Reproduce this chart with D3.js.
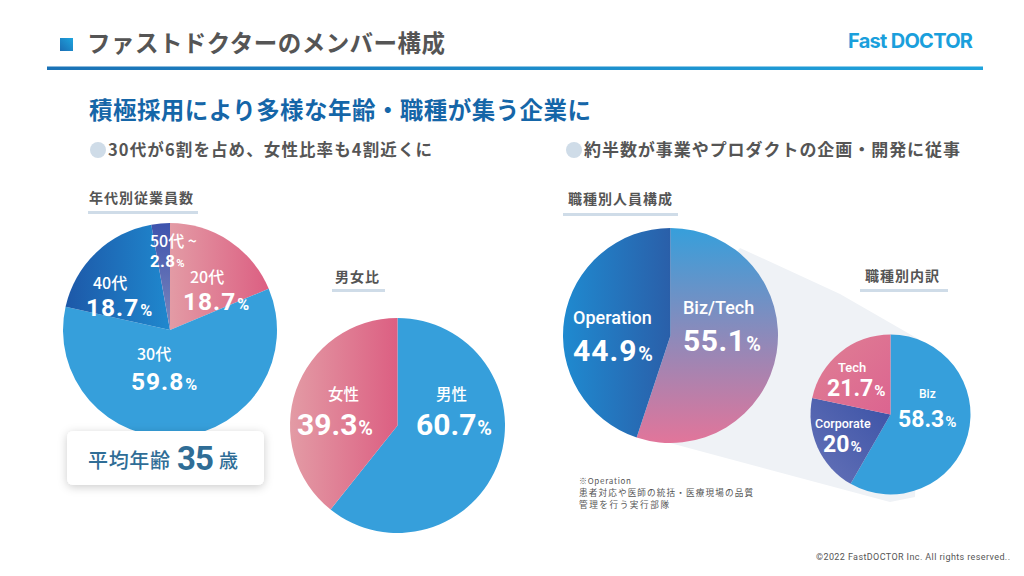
<!DOCTYPE html>
<html lang="ja">
<head>
<meta charset="utf-8">
<script src="https://cdn.jsdelivr.net/npm/d3@7"></script>
<style>
  html, body { margin: 0; padding: 0; background: #fff; }
  svg { display: block; }
  text { font-family: "Noto Sans CJK JP", sans-serif; }
</style>
</head>
<body>
<div id="chart"></div>
<script>
// data
var ageNames = ['20代', '30代', '40代', '50代 ~'];
var ageValues = [18.7, 59.8, 18.7, 2.8];
var genderNames = ['男性', '女性'];
var genderValues = [60.7, 39.3];
var jobNames = ['Biz/Tech', 'Operation'];
var jobValues = [55.1, 44.9];
var detailNames = ['Biz', 'Corporate', 'Tech'];
var detailValues = [58.3, 20, 21.7];

// slice fills: [x1, y1, x2, y2, from, to]
var blue = [0, 0, 1, 0, '#369fdb', '#369fdb'];
var pink = [0, 0, 1, 0, '#e39ba5', '#dc5f82'];
var ageFills = [pink, blue, [0, 0, 1, 0, '#1d58a8', '#1f88ce'], [0, 0, 0, 1, '#3d53ad', '#7f88bd']];
var genderFills = [blue, pink];
var jobFills = [[0, 0, 0, 1, '#369fdb', '#e2759a'], [0, 0, 1, 0, '#1f8ad0', '#2a5fa9']];
var detailFills = [blue, [0, 1, 1, 0, '#6673b8', '#3b52a6'], [0, 0, 1, 1, '#df8094', '#dc6490']];

// label anchors: [name x, name baseline, name size, value x, value baseline, value size, spacing]
var ageLabels = [
  [190, 282.5, 16, 183, 310, 24.5, 1],
  [137, 360, 16, 131, 390, 24.5, 1],
  [93, 289, 16, 86, 316, 24.5, 1],
  [150, 247, 16, 150, 266.5, 17, 0.3]
];
var genderLabels = [
  [436, 400, 15.5, 416, 435, 30, 0],
  [328, 400, 15.5, 297, 435, 30, 0]
];
var jobLabels = [
  [683, 314, 18, 683, 351, 30, 0.5],
  [573, 324, 18, 573, 361, 30, 1]
];
var detailLabels = [
  [919, 398, 12, 898, 427, 23, 0],
  [815, 428, 12.5, 823, 452, 23, 0],
  [838, 372, 13, 827, 396, 23, 0]
];

var textColor = '#555';
var ruleColor = '#cfdce8';
var numberFont = 'Roboto, sans-serif';

var svg = d3.select('#chart').append('svg').attr('width', 1024).attr('height', 576);
var defs = svg.append('defs');

var shadow = defs.append('filter').attr('id', 'card-shadow')
  .attr('x', '-20%').attr('y', '-40%').attr('width', '140%').attr('height', '180%');
shadow.append('feDropShadow').attr('dx', 0).attr('dy', 2).attr('stdDeviation', 5)
  .attr('flood-color', '#000').attr('flood-opacity', 0.2);

function addGradient(id, f) {
  var g = defs.append('linearGradient').attr('id', id)
    .attr('x1', f[0]).attr('y1', f[1]).attr('x2', f[2]).attr('y2', f[3]);
  g.append('stop').attr('offset', 0).attr('stop-color', f[4]);
  g.append('stop').attr('offset', 1).attr('stop-color', f[5]);
}

function drawText(str, x, y, size, color, opts) {
  opts = opts || {};
  var t = svg.append('text')
    .attr('x', x).attr('y', y)
    .attr('font-size', size)
    .attr('font-weight', opts.weight || 700)
    .attr('fill', color)
    .style('font-family', opts.font || null)
    .text(str);
  if (opts.width) {
    t.attr('textLength', opts.width).attr('lengthAdjust', 'spacing');
  }
  return t;
}

// header
addGradient('square-fill', [0, 1, 1, 0, '#1a6db4', '#1ea5de']);
addGradient('rule-fill', [0, 0, 1, 0, '#1a72b6', '#1fa4dd']);
svg.append('rect').attr('x', 60).attr('y', 38).attr('width', 13).attr('height', 13).attr('fill', 'url(#square-fill)');
drawText('ファストドクターのメンバー構成', 87, 52, 23.5, textColor, { width: 358 });
drawText('Fast DOCTOR', 848, 48, 20, '#1a9fdc', { font: 'Inter, sans-serif', width: 125 });
svg.append('rect').attr('x', 47).attr('y', 66.5).attr('width', 936).attr('height', 3.5).attr('fill', 'url(#rule-fill)');

drawText('積極採用により多様な年齢・職種が集う企業に', 89, 119, 23.5, '#1566a8', { width: 502 });

svg.append('circle').attr('cx', 98).attr('cy', 150).attr('r', 8).attr('fill', ruleColor);
drawText('30代が6割を占め、女性比率も4割近くに', 108, 156, 16.5, textColor, { width: 324 });
svg.append('circle').attr('cx', 574).attr('cy', 150).attr('r', 8).attr('fill', ruleColor);
drawText('約半数が事業やプロダクトの企画・開発に従事', 584, 156, 17, textColor, { width: 376 });

// chart headings: text, x, baseline, text width, rule x, rule y, rule width
[
  ['年代別従業員数', 89, 203, 104, 88, 211, 110],
  ['男女比', 335, 282, 44, 332, 289, 53],
  ['職種別人員構成', 568, 204, 104, 563, 213, 115],
  ['職種別内訳', 865, 281, 74, 860, 289, 88]
].forEach(function(h) {
  drawText(h[0], h[1], h[2], 14, textColor, { width: h[3] });
  svg.append('rect').attr('x', h[4]).attr('y', h[5]).attr('width', h[6]).attr('height', 3).attr('fill', ruleColor);
});

// band joining the job pie to its breakdown
svg.append('path')
  .attr('d', 'M670,335L740,248L840,294L920,340L915,497L890,502L670,443Z')
  .attr('fill', '#eff2f6');

var pie = d3.pie().sort(null).value(function(d) { return d; });

function drawPie(id, cx, cy, radius, values, fills) {
  var arc = d3.arc().innerRadius(0).outerRadius(radius);
  var g = svg.append('g').attr('transform', 'translate(' + cx + ',' + cy + ')');
  fills.forEach(function(f, i) { addGradient(id + '-' + i, f); });
  g.selectAll('path')
    .data(pie(values))
    .enter()
    .append('path')
    .attr('d', arc)
    .attr('fill', function(d, i) { return 'url(#' + id + '-' + i + ')'; });
}

function drawLabels(names, values, labels) {
  names.forEach(function(name, i) {
    var l = labels[i];
    var isLatin = /^[A-Z]/.test(name);
    drawText(name, l[0], l[1], l[2], '#fff', {
      weight: 500,
      font: isLatin ? numberFont : null
    });
    var t = drawText(null, l[3], l[4], l[5], '#fff', { font: numberFont });
    t.append('tspan').attr('letter-spacing', l[6]).text(values[i]);
    t.append('tspan').attr('font-size', l[5] * 0.66).attr('dx', 1).text('%');
  });
}

drawPie('age', 170, 330, 107, ageValues, ageFills);
drawPie('gender', 397.5, 425.5, 107.5, genderValues, genderFills);
drawPie('job', 670.5, 335.5, 107.5, jobValues, jobFills);
drawPie('detail', 890.5, 414.5, 80, detailValues, detailFills);

drawLabels(ageNames, ageValues, ageLabels);
drawLabels(genderNames, genderValues, genderLabels);
drawLabels(jobNames, jobValues, jobLabels);
drawLabels(detailNames, detailValues, detailLabels);

// average age card
svg.append('rect')
  .attr('x', 67).attr('y', 431).attr('width', 197).attr('height', 54).attr('rx', 6)
  .attr('fill', '#fff').attr('filter', 'url(#card-shadow)');
drawText('平均年齢', 88, 468, 20, '#2f6d96', { weight: 500, width: 82 });
drawText('35', 177, 470, 33, '#2f6d96', { font: numberFont, width: 37 });
drawText('歳', 219, 468, 19, '#2f6d96', { weight: 500 });

// footnote
drawText('※Operation', 579, 484, 8, textColor, { weight: 400, width: 52 });
drawText('患者対応や医師の統括・医療現場の品質', 579, 495.5, 8.6, textColor, { weight: 400, width: 174 });
drawText('管理を行う実行部隊', 579, 508, 8.6, textColor, { weight: 400, width: 90 });

drawText('©2022 FastDOCTOR Inc. All rights reserved..', 816, 560, 9, textColor, { weight: 400, font: 'Roboto, sans-serif', width: 194 });
</script>
</body>
</html>
